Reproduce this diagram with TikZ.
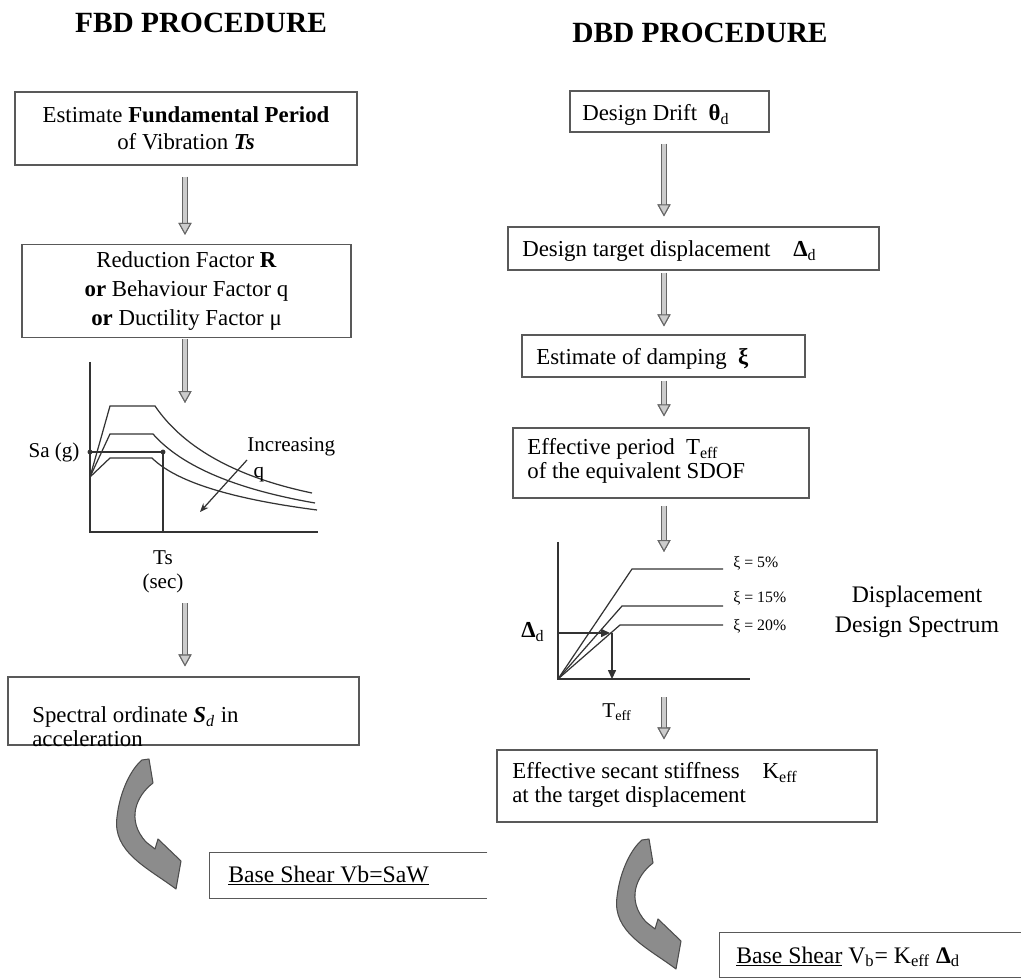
\documentclass[tikz,border=0pt]{standalone}
\usepackage{fontspec}
\setmainfont{Liberation Serif}
\usetikzlibrary{arrows.meta}

\tikzset{
  box/.style={draw=black!65, line width=0.7pt, inner sep=0pt},
  boxtext/.style={inner sep=0pt, anchor=west, align=left, font=\fontsize{13}{13.5}\selectfont},
  headtext/.style={inner sep=0pt, font=\fontsize{16.7}{20}\selectfont\bfseries},
  smalltext/.style={inner sep=0pt, font=\fontsize{12}{14}\selectfont},
  tinytext/.style={inner sep=0pt, anchor=west, font=\fontsize{9}{10}\selectfont},
  flow/.style={line width=2.4pt, draw=black!20,
    preaction={draw=black!60, line width=3.8pt},
    -{Triangle[length=6.8pt, width=7.4pt, fill=black!20, color=black!60, line width=0.6pt]}},
  graphline/.style={draw=black!80, line width=0.7pt},
  bendarrow/.pic={
    \draw[draw=black!70, fill=black!45, line width=0.6pt, line join=round]
      (0,0) -- (7,-1) -- (11,23) .. controls (-6,36) and (-16,60) .. (4,82) -- (13,89) -- (16,79)
      -- (39,101) -- (34,129) .. controls (6,108) and (-30,92) .. (-25,57)
      .. controls (-22,30) and (-10,8) .. (0,0) -- cycle;
  }
}

\begin{document}
\begin{tikzpicture}[x=0.02cm, y=-0.02cm]
\useasboundingbox (0,0) rectangle (1021,979);

% Titles
\node[headtext] (fbdtitle) at (201,23) {FBD PROCEDURE};
\node[headtext] (dbdtitle) at (700,33) {DBD PROCEDURE};

% FBD column
\coordinate (fcol) at (185,0);
\node[box, minimum width=6.84cm, minimum height=1.46cm, align=center, font=\fontsize{13}{15.3}\selectfont] (period) at (186,128.5)
  {Estimate \textbf{Fundamental Period}\\of Vibration \textbf{\textit{Ts}}};
\node[box, minimum width=6.58cm, minimum height=1.86cm, align=center, font=\fontsize{13}{16.4}\selectfont] (factor) at (186.5,291)
  {Reduction Factor \textbf{R}\\\textbf{or} Behaviour Factor q\\\textbf{or} Ductility Factor μ};
\node[box, minimum width=7.02cm, minimum height=1.36cm] (spectral) at (183.5,711) {};
\node[boxtext, font=\fontsize{13}{13.6}\selectfont] (spectraltext) at (32,727)
  {Spectral ordinate \textbf{\textit{S}}\textsubscript{\textit{d}} in\\acceleration};
\node[minimum width=5.54cm, minimum height=0.9cm, inner sep=0pt] (fshear) at (348.5,875.5) {};
\draw[box] (fshear.north east) -- (fshear.north west) -- (fshear.south west) -- (fshear.south east);
\node[boxtext, font=\fontsize{13.5}{16}\selectfont, anchor=base west] (fsheartext) at (228,882) {\underline{Base Shear Vb=SaW}};

% FBD spectrum
\draw[graphline] (90,362) -- (90,532) -- (318,532);
\draw[graphline] (90,477) -- (110,406) -- (155,406) .. controls (185,450) and (240,478) .. (312,493);
\draw[graphline] (90,477) -- (110,434) -- (153,434) .. controls (183,468) and (240,490) .. (315,503);
\draw[graphline] (90,477) -- (110,458) -- (152,458) .. controls (178,484) and (240,500) .. (317,510);
\draw[graphline] (88,452) -- (163,452) -- (163,532);
\fill[black!80] (90,452) circle[radius=1.4pt];
\fill[black!80] (163,452) circle[radius=1.4pt];
\node[smalltext] (sa) at (54,452) {Sa (g)};
\node[smalltext, anchor=west, align=left, font=\fontsize{12}{14.7}\selectfont] (increase) at (247,460) {Increasing\\\hspace{0.3em}q};
\coordinate (qtip) at (200,512);
\draw[graphline, -{Stealth[length=5pt, width=4pt]}] (increase.west) -- (qtip);
\node[smalltext, align=center] (ts) at (163,572) {Ts\\(sec)};
\coordinate (fgtop) at (185,403);
\coordinate (fgbot) at (185,603);

% FBD arrows
\draw[flow, shorten <=0.22cm, shorten >=0.18cm] (period.south -| fcol) -- (factor.north -| fcol);
\draw[flow, shorten <=0.02cm] (factor.south -| fcol) -- (fgtop);
\draw[flow, shorten >=0.2cm] (fgbot) -- (spectral.north -| fcol);
\pic at (142,760) {bendarrow};

% DBD column
\coordinate (dcol) at (664,0);
\node[box, minimum width=3.98cm, minimum height=0.82cm] (drift) at (669.5,111.5) {};
\node[boxtext, anchor=base west] (drifttext) at (582,121) {Design Drift\enspace \textbf{θ}\textsubscript{d}};
\node[box, minimum width=7.42cm, minimum height=0.86cm] (target) at (693.5,248.5) {};
\node[boxtext, anchor=base west] (targettext) at (522,257) {Design target displacement\quad \textbf{Δ}\textsubscript{d}};
\node[box, minimum width=5.66cm, minimum height=0.84cm] (damping) at (663.5,356) {};
\node[boxtext, anchor=base west] (dampingtext) at (536,365) {Estimate of damping\enspace \textbf{ξ}};
\node[box, minimum width=5.92cm, minimum height=1.40cm] (effperiod) at (661,463) {};
\node[boxtext] (effperiodtext) at (527,461) {Effective period\enspace T\textsubscript{eff}\\of the equivalent SDOF};
\node[box, minimum width=7.60cm, minimum height=1.44cm] (secant) at (687,786) {};
\node[boxtext] (secanttext) at (512,785) {Effective secant stiffness\quad K\textsubscript{eff}\\at the target displacement};
\node[minimum width=6.02cm, minimum height=0.88cm, inner sep=0pt] (dshear) at (870.5,955) {};
\draw[box] (dshear.north east) -- (dshear.north west) -- (dshear.south west) -- (dshear.south east);
\node[boxtext, font=\fontsize{13.5}{16}\selectfont, anchor=base west] (dsheartext) at (736,963)
  {\underline{Base Shear} V\textsubscript{b}= K\textsubscript{eff} \textbf{Δ}\textsubscript{d}};

% DBD spectrum
\draw[graphline] (558,542) -- (558,679) -- (750,679);
\draw[graphline] (558,679) -- (632,569) -- (723,569);
\draw[graphline] (558,679) -- (622,606) -- (723,606);
\draw[graphline] (558,679) -- (620,625) -- (723,625);
\draw[graphline, -{Triangle[length=5pt, width=4.5pt]}] (558,633) -- (610,633);
\draw[graphline, -{Triangle[length=5pt, width=4.5pt]}] (612,633) -- (612,679);
\node[tinytext] (xi5) at (733,563) {ξ = 5\%};
\node[tinytext] (xi15) at (733,598) {ξ = 15\%};
\node[tinytext] (xi20) at (733,626) {ξ = 20\%};
\node[smalltext, font=\fontsize{13}{15}\selectfont] (deltad) at (533,632) {\textbf{Δ}\textsubscript{d}};
\node[smalltext] (teff) at (617,712) {T\textsubscript{eff}};
\node[align=center, inner sep=0pt, font=\fontsize{13.5}{17}\selectfont] (dispspec) at (917,612) {Displacement\\Design Spectrum};
\coordinate (dgtop) at (664,552);
\coordinate (dgbot) at (664,697);

% DBD arrows
\draw[flow, shorten <=0.22cm, shorten >=0.2cm] (drift.south -| dcol) -- (target.north -| dcol);
\draw[flow, shorten <=0.04cm, shorten >=0.16cm] (target.south -| dcol) -- (damping.north -| dcol);
\draw[flow, shorten <=0.06cm, shorten >=0.22cm] (damping.south -| dcol) -- (effperiod.north -| dcol);
\draw[flow, shorten <=0.14cm] (effperiod.south -| dcol) -- (dgtop);
\draw[flow, shorten >=0.2cm] (dgbot) -- (secant.north -| dcol);
\pic at (642,840) {bendarrow};
\end{tikzpicture}
\end{document}
